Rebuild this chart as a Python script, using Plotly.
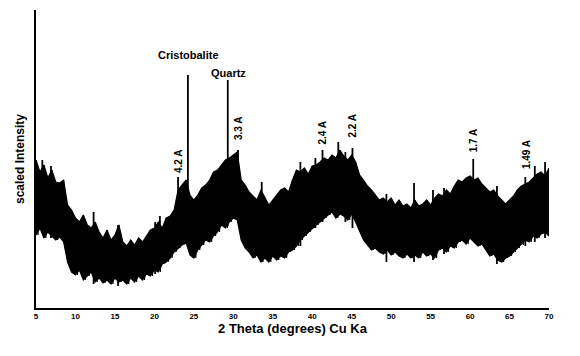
import numpy as np
import plotly.graph_objects as go

# 2 theta grid (0.5 deg), upper / lower edge of the noisy trace
two_theta = np.arange(5, 70.01, 0.5)
upper = [148, 136, 143, 130, 138, 126, 125, 128, 103, 98, 90, 86, 93, 83, 80, 86, 76, 70, 78, 68,
         73, 83, 66, 62, 68, 63, 70, 66, 72, 78, 80, 86, 80, 90, 92, 98, 118, 123, 128, 113,
         108, 113, 120, 123, 128, 136, 138, 143, 148, 150, 153, 156, 128, 123, 116, 112, 108, 118, 110, 103,
         108, 113, 118, 120, 116, 128, 138, 136, 140, 134, 142, 143, 146, 150, 148, 153, 150, 158, 152, 148,
         153, 146, 133, 128, 122, 118, 113, 108, 110, 106, 110, 103, 108, 102, 104, 100, 108, 102, 104, 108,
         103, 110, 114, 112, 118, 114, 122, 128, 126, 130, 132, 128, 130, 124, 120, 116, 118, 112, 108, 104,
         108, 112, 118, 122, 124, 126, 130, 134, 136, 132, 140]
lower = [73, 80, 70, 76, 72, 68, 71, 66, 46, 36, 33, 38, 28, 32, 36, 26, 30, 25, 28, 24,
         30, 26, 28, 24, 30, 26, 32, 28, 34, 32, 38, 36, 44, 46, 50, 56, 60, 63, 66, 53,
         50, 58, 63, 68, 66, 72, 76, 83, 80, 86, 90, 88, 68, 60, 56, 50, 53, 46, 50, 46,
         52, 48, 52, 50, 56, 58, 62, 68, 72, 76, 80, 83, 86, 90, 93, 96, 90, 94, 92, 88,
         94, 86, 76, 68, 63, 58, 60, 56, 54, 58, 53, 56, 52, 50, 54, 50, 53, 50, 56, 52,
         54, 50, 58, 60, 56, 62, 60, 66, 68, 64, 70, 66, 62, 64, 58, 52, 54, 48, 46, 50,
         52, 56, 60, 63, 68, 66, 72, 70, 74, 76, 72]

# sharp reflections and single-count spikes
peak_2theta = [5.8, 6.9, 12.3, 15.4, 20.1, 20.7, 23.0, 24.25, 29.3, 30.6, 33.6, 38.5,
               40.4, 41.3, 43.3, 44.2, 45.1, 49.4, 52.9, 55.3, 56.7, 60.4, 63.4, 67.0,
               68.2, 69.5]
peak_top = [148, 142, 96, 83, 86, 92, 131, 233, 228, 158, 126, 146,
            150, 158, 166, 156, 160, 114, 125, 118, 120, 149, 122, 131,
            142, 146]
peak_base = [80, 70, 24, 22, 34, 40, 62, 62, 82, 90, 46, 62,
             80, 86, 92, 86, 80, 46, 46, 48, 54, 70, 44, 62,
             66, 70]

labels = ["4.2 A", "3.3 A", "2.4 A", "2.2 A", "1.7 A", "1.49 A"]
label_2theta = [23.0, 30.6, 41.3, 45.1, 60.4, 67.1]
label_y = [147, 180, 176, 183, 168, 153]

# zigzag between upper and lower edge for the noisy texture
x_line, y_line = [], []
for i, t in enumerate(two_theta):
    x_line += [t, t + 0.25]
    y_line += [upper[i], lower[i]]

px, py = [], []
for t, b, h in zip(peak_2theta, peak_base, peak_top):
    px += [t, t, None]
    py += [b, h, None]

fig = go.Figure()
fig.add_trace(go.Scatter(x=two_theta, y=upper, mode="lines",
                         line=dict(color="black", width=1.2)))
fig.add_trace(go.Scatter(x=two_theta, y=lower, mode="lines", fill="tonexty",
                         fillcolor="black", line=dict(color="black", width=1.2)))
fig.add_trace(go.Scatter(x=x_line[:-1], y=y_line[:-1], mode="lines",
                         line=dict(color="black", width=1.2)))
fig.add_trace(go.Scatter(x=px, y=py, mode="lines",
                         line=dict(color="black", width=1.8)))

bold = dict(family="Liberation Sans", color="black", weight="bold")

for lab, t, y in zip(labels, label_2theta, label_y):
    fig.add_annotation(x=t, y=y, text=lab, textangle=-90, showarrow=False,
                       font=dict(size=10, **bold))
fig.add_annotation(x=24.3, y=253, text="Cristobalite", showarrow=False,
                   font=dict(size=11, **bold))
fig.add_annotation(x=29.4, y=235, text="Quartz", showarrow=False,
                   font=dict(size=11, **bold))

# page body has an 8px margin, so the margins are shifted to compensate
fig.update_layout(
    width=580, height=356,
    margin=dict(l=28, r=39, t=2, b=56),
    paper_bgcolor="white", plot_bgcolor="white",
    showlegend=False,
    xaxis=dict(range=[5, 70], tickvals=list(range(5, 71, 5)), automargin=False,
               showline=True, linecolor="black", linewidth=1.5,
               ticks="", showgrid=False, zeroline=False,
               tickfont=dict(size=8, **bold),
               title=dict(text="2 Theta (degrees) Cu Ka", standoff=0,
                          font=dict(size=13, **bold))),
    yaxis=dict(range=[0, 298], showline=True, linecolor="black", linewidth=1.5,
               showticklabels=False, ticks="", showgrid=False, zeroline=False,
               automargin=False,
               title=dict(text="scaled Intensity", standoff=7,
                          font=dict(size=12, **bold))),
)

fig.write_html("out.html")
